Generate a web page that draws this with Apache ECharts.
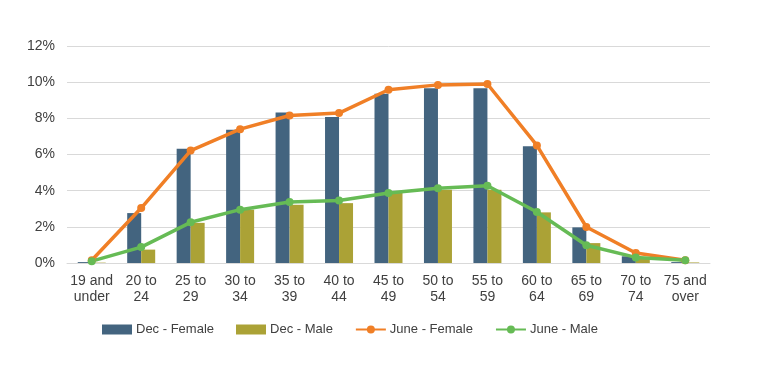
<!DOCTYPE html>
<html>
<head>
<meta charset="utf-8">
<script src="https://cdn.jsdelivr.net/npm/echarts@6/dist/echarts.min.js"></script>
<style>html,body{margin:0;padding:0;background:#fff;}#c{width:760px;height:365px;}</style>
</head>
<body>
<div id="c"></div>
<script>
const categories = ['19 and\nunder','20 to\n24','25 to\n29','30 to\n34','35 to\n39','40 to\n44','45 to\n49','50 to\n54','55 to\n59','60 to\n64','65 to\n69','70 to\n74','75 and\nover'];
const decFemale = [0.05, 2.76, 6.32, 7.37, 8.32, 8.07, 9.36, 9.67, 9.67, 6.45, 1.97, 0.37, 0.05];
const decMale   = [0.02, 0.74, 2.22, 2.95, 3.22, 3.31, 3.87, 4.05, 4.05, 2.80, 1.10, 0.28, 0.03];
const juneFemale = [0.15, 3.04, 6.22, 7.40, 8.16, 8.29, 9.58, 9.85, 9.90, 6.50, 1.99, 0.55, 0.15];
const juneMale   = [0.10, 0.88, 2.25, 2.95, 3.37, 3.46, 3.87, 4.14, 4.27, 2.82, 0.98, 0.31, 0.15];
const yTicks = [0, 2, 4, 6, 8, 10, 12];

const font = 'Liberation Sans, Arial, sans-serif';
const chart = echarts.init(document.getElementById('c'));
chart.setOption({
  animation: false,
  grid: {left: 67, right: 50, top: 46, bottom: 102},
  legend: {
    top: 318, left: 97,
    itemWidth: 30, itemHeight: 10, itemGap: 22,
    textStyle: {fontFamily: font, fontSize: 13, color: '#404040', padding: [0, 0, 0, -1]},
    data: [
      {name: 'Dec - Female', icon: 'rect'},
      {name: 'Dec - Male', icon: 'rect'},
      {name: 'June - Female'},
      {name: 'June - Male'}
    ]
  },
  xAxis: {
    type: 'category', data: categories,
    axisTick: {show: false},
    axisLine: {lineStyle: {color: '#d9d9d9'}},
    axisLabel: {interval: 0, fontFamily: font, fontSize: 14, color: '#404040', lineHeight: 16, margin: 10}
  },
  yAxis: {
    type: 'value', min: yTicks[0], max: yTicks[yTicks.length-1], interval: 2,
    axisLabel: {formatter: v => v + '%', fontFamily: font, fontSize: 14, color: '#404040', margin: 12},
    splitLine: {lineStyle: {color: '#d9d9d9'}},
    axisLine: {show: false}, axisTick: {show: false}
  },
  series: [
    {name: 'Dec - Female', type: 'bar', data: decFemale, barWidth: 14, barGap: '0%', itemStyle: {color: '#43647f'}},
    {name: 'Dec - Male', type: 'bar', data: decMale, barWidth: 14, barGap: '0%', itemStyle: {color: '#aba236'}},
    {name: 'June - Female', type: 'line', data: juneFemale, symbol: 'circle', symbolSize: 8,
      lineStyle: {width: 3.5, color: '#f07f26'}, itemStyle: {color: '#f07f26'}},
    {name: 'June - Male', type: 'line', data: juneMale, symbol: 'circle', symbolSize: 8,
      lineStyle: {width: 3.5, color: '#66bb55'}, itemStyle: {color: '#66bb55'}}
  ]
});
</script>
</body>
</html>
